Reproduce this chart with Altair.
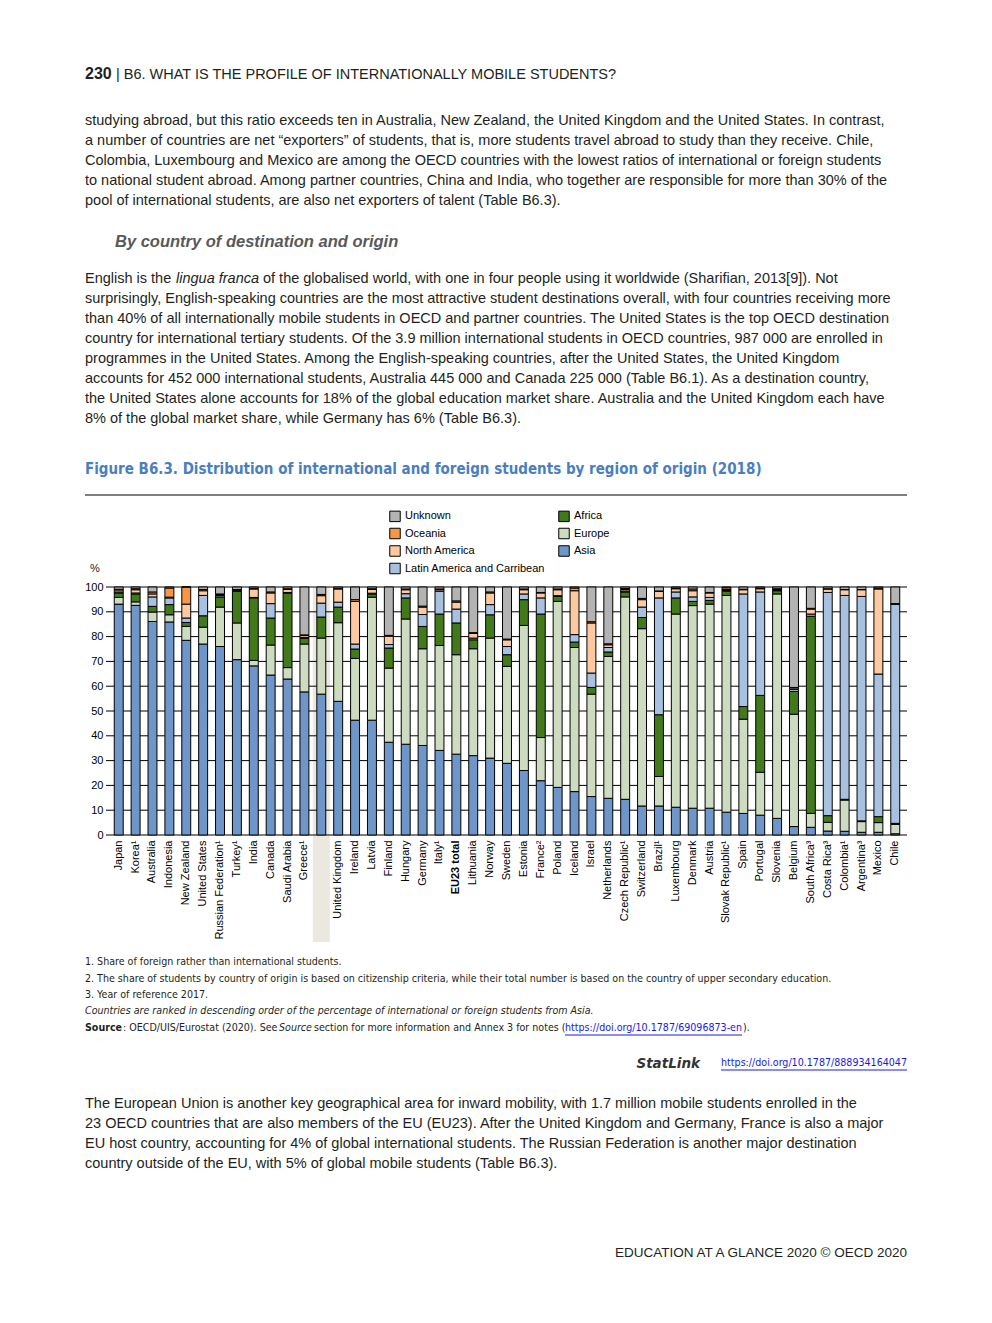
import altair as alt
import pandas as pd

# ---------------- data ----------------
countries = ["Japan", "Korea¹", "Australia", "Indonesia", "New Zealand", "United States",
             "Russian Federation¹", "Turkey¹", "India", "Canada", "Saudi Arabia", "Greece¹",
             "OECD total", "United Kingdom", "Ireland", "Latvia", "Finland", "Hungary", "Germany",
             "Italy¹", "EU23 total", "Lithuania", "Norway", "Sweden", "Estonia", "France²",
             "Poland", "Iceland", "Israel", "Netherlands", "Czech Republic¹", "Switzerland",
             "Brazil¹", "Luxembourg", "Denmark", "Austria", "Slovak Republic¹", "Spain",
             "Portugal", "Slovenia", "Belgium", "South Africa³", "Costa Rica³", "Colombia¹",
             "Argentina³", "Mexico", "Chile"]

asia = [93.1, 92.6, 86.1, 85.9, 78.5, 77.0, 76.0, 70.7, 68.2, 64.5, 62.9, 57.7,
        56.8, 53.9, 46.3, 46.3, 37.4, 36.6, 36.1, 34.1, 32.6, 32.0, 31.0, 28.9,
        26.0, 21.9, 19.2, 17.5, 15.5, 14.8, 14.4, 11.7, 11.7, 11.2, 10.8, 10.8,
        9.2, 8.7, 8.0, 6.7, 3.4, 3.1, 1.6, 1.5, 1.1, 1.1, 0.5]
europe = [2.7, 1.4, 3.8, 2.9, 5.6, 6.8, 15.9, 14.8, 2.2, 12.1, 4.6, 19.3,
          22.6, 31.7, 24.9, 49.6, 29.9, 50.5, 39.0, 42.3, 40.1, 43.1, 48.4, 39.1,
          58.5, 17.4, 75.0, 58.1, 41.3, 57.2, 81.6, 71.5, 11.9, 77.9, 81.7, 82.3,
          87.4, 38.0, 17.3, 90.5, 45.3, 5.6, 3.5, 12.6, 4.3, 3.9, 3.8]
africa = [1.8, 3.2, 2.3, 4.1, 1.6, 4.6, 4.1, 12.8, 25.2, 10.9, 30.0, 2.3,
          8.5, 6.3, 3.8, 1.3, 8.1, 8.5, 9.0, 12.7, 12.8, 3.6, 9.4, 4.7,
          10.4, 49.8, 2.0, 2.2, 2.7, 1.8, 2.0, 4.5, 24.9, 6.5, 1.7, 1.5,
          1.7, 5.1, 31.0, 1.3, 9.2, 79.5, 2.7, 0.3, 0.3, 2.4, 0.4]
latin_america = [0.4, 0.4, 3.8, 2.7, 1.8, 8.2, 0.6, 0.2, 0.2, 5.8, 0.3, 0.4,
                 5.6, 2.0, 2.0, 0.3, 1.4, 1.7, 4.8, 9.2, 5.6, 0.7, 4.1, 3.3,
                 2.3, 6.5, 0.3, 3.0, 5.8, 1.8, 0.4, 4.2, 47.1, 2.4, 1.8, 1.2,
                 0.3, 45.4, 41.7, 0.3, 0.8, 0.9, 90.0, 82.2, 90.5, 57.5, 88.4]
north_america = [0.8, 1.3, 1.2, 0.3, 5.6, 1.9, 0.4, 0.2, 3.4, 4.3, 1.2, 0.8,
                 3.0, 5.3, 17.2, 1.5, 3.4, 1.6, 3.0, 0.6, 2.8, 1.9, 4.7, 2.7,
                 1.7, 2.0, 2.4, 17.7, 20.2, 1.1, 0.6, 3.0, 2.7, 1.3, 2.5, 1.8,
                 0.4, 1.7, 1.3, 0.2, 0.6, 2.0, 1.4, 2.3, 2.7, 34.3, 0.1]
oceania = [0.3, 0.4, 0.8, 3.7, 6.9, 0.5, 0.2, 0.3, 0.3, 0.4, 0.3, 0.2,
           0.5, 0.3, 0.7, 0.3, 0.3, 0.3, 0.4, 0.3, 0.5, 0.3, 0.4, 0.3,
           0.3, 0.2, 0.3, 1.1, 0.5, 0.4, 0.4, 0.5, 0.1, 0.3, 0.7, 0.2,
           0.7, 0.2, 0.3, 0.3, 0.2, 0.3, 0.1, 0.1, 0.1, 0.4, 0.1]
unknown = [0.9, 0.7, 2.0, 0.4, 0.0, 1.0, 2.8, 1.0, 0.5, 2.0, 0.7, 19.3,
           3.0, 0.5, 5.1, 0.7, 19.5, 0.8, 7.7, 0.8, 5.6, 18.4, 2.0, 21.0,
           0.8, 2.2, 0.8, 0.4, 14.0, 22.9, 0.6, 4.6, 1.6, 0.4, 0.8, 2.2,
           0.3, 0.9, 0.4, 0.7, 40.5, 8.6, 0.7, 1.0, 1.0, 0.4, 6.7]

regions = ["Asia", "Europe", "Africa", "Latin America and Carribean",
           "North America", "Oceania", "Unknown"]
series = [asia, europe, africa, latin_america, north_america, oceania, unknown]
region_color = {"Asia": "#6f96c9", "Europe": "#cddcc1", "Africa": "#41791b",
                "Latin America and Carribean": "#a9c1e1", "North America": "#fcc9a1",
                "Oceania": "#f79646", "Unknown": "#b3b3b3"}
legend_order = ["Unknown", "Oceania", "North America", "Latin America and Carribean",
                "Africa", "Europe", "Asia"]
y_ticks = [0, 10, 20, 30, 40, 50, 60, 70, 80, 90, 100]
highlight = ["OECD total"]

rows = []
for i, c in enumerate(countries):
    for k, (r, vals) in enumerate(zip(regions, series)):
        rows.append({"country": c, "region": r, "value": vals[i], "order": k})
df = pd.DataFrame(rows)

# ---------------- page text ----------------
header_num = "230"
header_txt = "| B6. WHAT IS THE PROFILE OF INTERNATIONALLY MOBILE STUDENTS?"
para1 = [
    "studying abroad, but this ratio exceeds ten in Australia, New Zealand, the United Kingdom and the United States. In contrast,",
    "a number of countries are net “exporters” of students, that is, more students travel abroad to study than they receive. Chile,",
    "Colombia, Luxembourg and Mexico are among the OECD countries with the lowest ratios of international or foreign students",
    "to national student abroad. Among partner countries, China and India, who together are responsible for more than 30% of the",
    "pool of international students, are also net exporters of talent (Table B6.3).",
]
subhead = "By country of destination and origin"
para2_first = ["English is the", "lingua franca",
               "of the globalised world, with one in four people using it worldwide (Sharifian, 2013[9]). Not"]
para2 = [
    "surprisingly, English-speaking countries are the most attractive student destinations overall, with four countries receiving more",
    "than 40% of all internationally mobile students in OECD and partner countries. The United States is the top OECD destination",
    "country for international tertiary students. Of the 3.9 million international students in OECD countries, 987 000 are enrolled in",
    "programmes in the United States. Among the English-speaking countries, after the United States, the United Kingdom",
    "accounts for 452 000 international students, Australia 445 000 and Canada 225 000 (Table B6.1). As a destination country,",
    "the United States alone accounts for 18% of the global education market share. Australia and the United Kingdom each have",
    "8% of the global market share, while Germany has 6% (Table B6.3).",
]
fig_title = "Figure B6.3. Distribution of international and foreign students by region of origin (2018)"
notes = [
    "1. Share of foreign rather than international students.",
    "2. The share of students by country of origin is based on citizenship criteria, while their total number is based on the country of upper secondary education.",
    "3. Year of reference 2017.",
]
note_italic = "Countries are ranked in descending order of the percentage of international or foreign students from Asia."
source_parts = ["Source", ": OECD/UIS/Eurostat (2020). See", "Source",
                "section for more information and Annex 3 for notes (",
                "https://doi.org/10.1787/69096873-en", ")."]
statlink = ["StatLink", "https://doi.org/10.1787/888934164047"]
para3 = [
    "The European Union is another key geographical area for inward mobility, with 1.7 million mobile students enrolled in the",
    "23 OECD countries that are also members of the EU (EU23). After the United Kingdom and Germany, France is also a major",
    "EU host country, accounting for 4% of global international students. The Russian Federation is another major destination",
    "country outside of the EU, with 5% of global mobile students (Table B6.3).",
]
footer = "EDUCATION AT A GLANCE 2020 © OECD 2020"

# ---------------- layout ----------------
W, H = 800, 248
X0, Y0 = 107, 587          # page position of plot origin
BODY = "Liberation Sans, Arial, sans-serif"
NARROW = "DejaVu Sans Condensed, sans-serif"
INK = "#231f20"
LINK = "#1a1adb"
BS = 14.5                  # body font size
NS = 10.6                  # note font size
dummy = pd.DataFrame({"a": [0]})


def txt(lines, x, yc, size=BS, weight="normal", style="normal", color=INK,
        align="left", lh=20, font=BODY):
    return alt.Chart(dummy).mark_text(
        text=lines, align=align, baseline="top", fontSize=size, fontWeight=weight,
        fontStyle=style, color=color, lineHeight=lh, font=font
    ).encode(x=alt.value(x - X0), y=alt.value(yc - 0.43 * size - Y0))


def hrule(x1, x2, y, color="black", w=1):
    return alt.Chart(dummy).mark_rule(color=color, strokeWidth=w).encode(
        x=alt.value(x1 - X0), x2=alt.value(x2 - X0), y=alt.value(y - Y0))


xscale = alt.Scale(domain=countries, paddingInner=0.47, paddingOuter=0.43)
yscale = alt.Scale(domain=[0, 100], nice=False)

x_axis = alt.Axis(
    title=None, labelAngle=270, labelAlign="right", labelBaseline="middle",
    labelPadding=5, labelFontSize=11, labelFont=BODY, labelColor="black",
    ticks=False, domain=False, grid=False, labelOverlap=False, labelLimit=0,
    labelFontWeight={"expr": "datum.value === 'OECD total' || datum.value === 'EU23 total' ? 'bold' : 'normal'"})
y_axis = alt.Axis(
    title=None, values=y_ticks, grid=False, domain=False, ticks=False,
    labelOverlap=False, labelPadding=4, labelFontSize=11, labelFont=BODY,
    labelColor="black")

shade = alt.Chart(pd.DataFrame({"country": highlight})).mark_bar(
    color="#ebe8df", width=17
).encode(
    x=alt.X("country:N", scale=xscale, sort=None, axis=x_axis),
    y=alt.value(0), y2=alt.value(355),
)

grid = alt.Chart(pd.DataFrame({"v": y_ticks})).mark_rule(
    color="black", strokeWidth=1
).encode(
    y=alt.Y("v:Q", scale=yscale, axis=y_axis), x=alt.value(-1), x2=alt.value(W),
)

bars = alt.Chart(df).mark_bar(stroke="black", strokeWidth=1).encode(
    x=alt.X("country:N", scale=xscale, sort=None, axis=x_axis),
    y=alt.Y("value:Q", stack="zero", scale=yscale, axis=y_axis),
    color=alt.Color("region:N", scale=alt.Scale(
        domain=legend_order, range=[region_color[r] for r in legend_order]),
        legend=alt.Legend(title=None, orient="none", legendX=282, legendY=-77,
                          columns=2, symbolType="square", symbolSize=110,
                          symbolStrokeColor="black", symbolStrokeWidth=1,
                          symbolOpacity=1, labelFontSize=11, labelFont=BODY,
                          labelColor="black", columnPadding=10, rowPadding=1.5,
                          labelOffset=4, padding=0)),
    order=alt.Order("order:Q", sort="ascending"),
)

texts = [
    txt(header_num, 85, 73, size=16, weight="bold"),
    txt(header_txt, 116, 74, size=14.5),
    txt(para1, 85, 120),
    txt(subhead, 115, 241, size=16.5, weight="bold", style="italic", color="#595959"),
    txt(para2_first[0], 85, 278),
    txt(para2_first[1], 176, 278, style="italic"),
    txt(para2_first[2], 263, 278),
    txt(para2, 85, 298),
    txt(fig_title, 85, 468, size=15, weight="bold", color="#4a7fbf", font=NARROW),
    hrule(85, 907, 495),
    txt("%", 90, 568, size=11),
    txt(notes, 85, 962, size=NS, font=NARROW, lh=16.5),
    txt(note_italic, 85, 1011, size=NS, style="italic", font=NARROW),
    txt(source_parts[0], 85, 1028, size=NS, weight="bold", font=NARROW),
    txt(source_parts[1], 123, 1028, size=NS, font=NARROW),
    txt(source_parts[2], 279, 1028, size=NS, style="italic", font=NARROW),
    txt(source_parts[3], 314, 1028, size=NS, font=NARROW),
    txt(source_parts[4], 565, 1028, size=NS, font=NARROW, color=LINK),
    hrule(565, 742, 1035, color=LINK),
    txt(source_parts[5], 743, 1028, size=NS, font=NARROW),
    txt(statlink[0], 700, 1063, size=13.5, weight="bold", style="italic",
        color="#333333", align="right", font="DejaVu Sans, sans-serif"),
    txt(statlink[1], 907, 1063, size=NS, font=NARROW, color=LINK, align="right"),
    hrule(721, 907, 1070, color=LINK),
    txt(para3, 85, 1103),
    txt(footer, 907, 1252, size=13.5, align="right"),
]

chart = alt.layer(shade, grid, bars, *texts).properties(
    width=W, height=H,
    autosize=alt.AutoSizeParams(type="none"),
    padding={"left": X0 - 8, "top": Y0 - 8, "right": 976 - (X0 - 8) - W,
             "bottom": 1297 - (Y0 - 8) - H},
    background="white",
).configure_view(stroke=None)

chart.save("out.html", embed_options={"renderer": "svg", "actions": False})
